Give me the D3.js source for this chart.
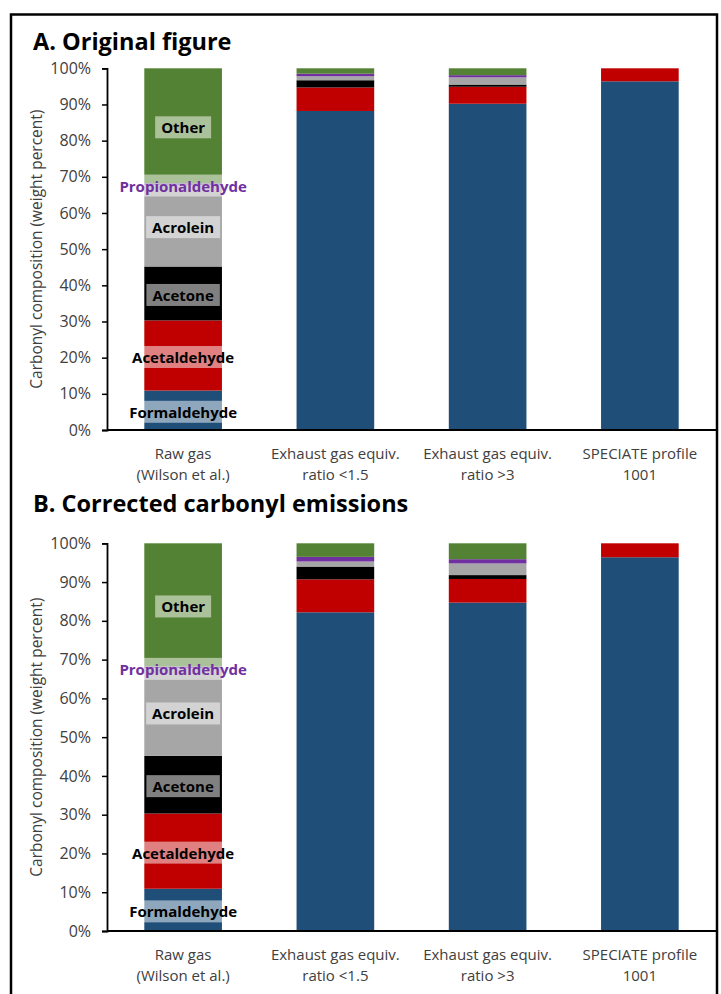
<!DOCTYPE html>
<html>
<head>
<meta charset="utf-8">
<script src="https://cdn.jsdelivr.net/npm/d3@7"></script>
<style>
  html, body { margin: 0; padding: 0; background: #fff; }
  svg { display: block; }
  text { font-family: "Open Sans", "Noto Sans", sans-serif; }
</style>
</head>
<body>
<svg id="chart" width="721" height="994"></svg>
<script>
// Categories (two-line axis labels)
const categories = [
  ["Raw gas", "(Wilson et al.)"],
  ["Exhaust gas equiv.", "ratio <1.5"],
  ["Exhaust gas equiv.", "ratio >3"],
  ["SPECIATE profile", "1001"]
];

// Stack order, bottom to top
const compounds = ["Formaldehyde", "Acetaldehyde", "Acetone", "Acrolein", "Propionaldehyde", "Other"];
const compoundColors = ["#1f4e79", "#c00000", "#000000", "#a6a6a6", "#7030a0", "#548235"];

// Panel A – original figure (weight percent, one value per category)
const origFormaldehyde    = [10.9, 88.2, 90.2, 96.4];
const origAcetaldehyde    = [19.4,  6.5,  4.7,  3.6];
const origAcetone         = [14.9,  2.0,  0.6,  0.0];
const origAcrolein        = [22.6,  1.1,  2.0,  0.0];
const origPropionaldehyde = [ 0.4,  0.7,  0.6,  0.0];
const origOther           = [31.8,  1.5,  1.9,  0.0];

// Panel B – corrected carbonyl emissions
const corrFormaldehyde    = [10.9, 82.2, 84.7, 96.4];
const corrAcetaldehyde    = [19.4,  8.5,  6.1,  3.6];
const corrAcetone         = [14.9,  3.3,  1.0,  0.0];
const corrAcrolein        = [22.6,  1.3,  3.0,  0.0];
const corrPropionaldehyde = [ 0.4,  1.2,  1.1,  0.0];
const corrOther           = [31.8,  3.5,  4.1,  0.0];

const yTicks = [0, 10, 20, 30, 40, 50, 60, 70, 80, 90, 100];
const yTitle = "Carbonyl composition (weight percent)";

const panels = [
  { title: "A. Original figure", titleY: 50, top: 68.3, bottom: 430,
    series: [origFormaldehyde, origAcetaldehyde, origAcetone, origAcrolein, origPropionaldehyde, origOther] },
  { title: "B. Corrected carbonyl emissions", titleY: 512, top: 543.3, bottom: 931,
    series: [corrFormaldehyde, corrAcetaldehyde, corrAcetone, corrAcrolein, corrPropionaldehyde, corrOther] }
];

const svg = d3.select("#chart");
const axisX0 = 107, axisX1 = 716;

// outer frame
svg.append("rect")
  .attr("x", 11).attr("y", 14.5).attr("width", 706).attr("height", 1100)
  .attr("fill", "none").attr("stroke", "#000").attr("stroke-width", 2.5);

const x = d3.scaleBand()
  .domain(d3.range(categories.length))
  .range([axisX0, axisX1])
  .paddingInner(0.49)
  .paddingOuter(0.245);

panels.forEach(p => {
  const g = svg.append("g");
  const y = d3.scaleLinear().domain([0, 100]).range([p.bottom, p.top]);

  // stacked rows
  const rows = categories.map((c, i) => {
    const r = { idx: i };
    compounds.forEach((k, j) => r[k] = p.series[j][i]);
    return r;
  });
  const stacked = d3.stack().keys(compounds)(rows);

  g.append("text")
    .attr("x", 33).attr("y", p.titleY)
    .attr("font-size", 23.5).attr("font-weight", 700).attr("fill", "#000")
    .text(p.title);

  stacked.forEach((layer, j) => {
    g.append("g").selectAll("rect")
      .data(layer.filter(d => d[1] - d[0] > 0))
      .join("rect")
      .attr("x", d => x(d.data.idx))
      .attr("width", x.bandwidth())
      .attr("y", d => y(d[1]))
      .attr("height", d => y(d[0]) - y(d[1]))
      .attr("fill", compoundColors[j]);
  });

  // data labels on the first (raw gas) bar
  const lab = g.append("g");
  stacked.forEach((layer, j) => {
    const d = layer[0];
    const cx = x(0) + x.bandwidth() / 2;
    const cy = y((d[0] + d[1]) / 2) + 1.5;
    const t = lab.append("text")
      .attr("x", cx).attr("y", cy)
      .attr("text-anchor", "middle").attr("dominant-baseline", "central")
      .attr("font-size", 15).attr("font-weight", 700)
      .attr("fill", compounds[j] === "Propionaldehyde" ? "#7030a0" : "#000")
      .text(compounds[j]);
    const w = t.node().getComputedTextLength();
    lab.insert("rect", () => t.node())
      .attr("x", cx - w / 2 - 6).attr("y", cy - 11)
      .attr("width", w + 12).attr("height", 22)
      .attr("fill", "#fff").attr("fill-opacity", 0.5);
  });

  // y axis
  const yAxis = d3.axisLeft(y).tickValues(yTicks)
    .tickFormat(v => v + "%").tickSize(5).tickPadding(11);
  const ya = g.append("g").attr("transform", `translate(${axisX0},0)`).call(yAxis);
  ya.select(".domain").attr("stroke", "#000").attr("stroke-width", 1.8);
  ya.selectAll(".tick line").attr("stroke", "#000").attr("stroke-width", 1.5);
  ya.selectAll(".tick text").attr("font-size", 16).attr("fill", "#404040")
    .attr("font-family", "'Open Sans', sans-serif");

  // x axis baseline
  g.append("line")
    .attr("x1", axisX0).attr("x2", axisX1)
    .attr("y1", y(0)).attr("y2", y(0))
    .attr("stroke", "#000").attr("stroke-width", 1.8);

  // category labels
  categories.forEach((c, i) => {
    const t = g.append("text")
      .attr("x", x(i) + x.bandwidth() / 2)
      .attr("y", y(0) + 29)
      .attr("text-anchor", "middle")
      .attr("font-size", 15).attr("fill", "#404040");
    c.forEach((line, k) => t.append("tspan")
      .attr("x", x(i) + x.bandwidth() / 2)
      .attr("dy", k === 0 ? 0 : 21)
      .text(line));
  });

  // y axis title
  g.append("text")
    .attr("transform", `translate(42,${(p.top + p.bottom) / 2}) rotate(-90)`)
    .attr("text-anchor", "middle")
    .attr("font-size", 15.5).attr("fill", "#404040")
    .text(yTitle);
});
</script>
</body>
</html>
